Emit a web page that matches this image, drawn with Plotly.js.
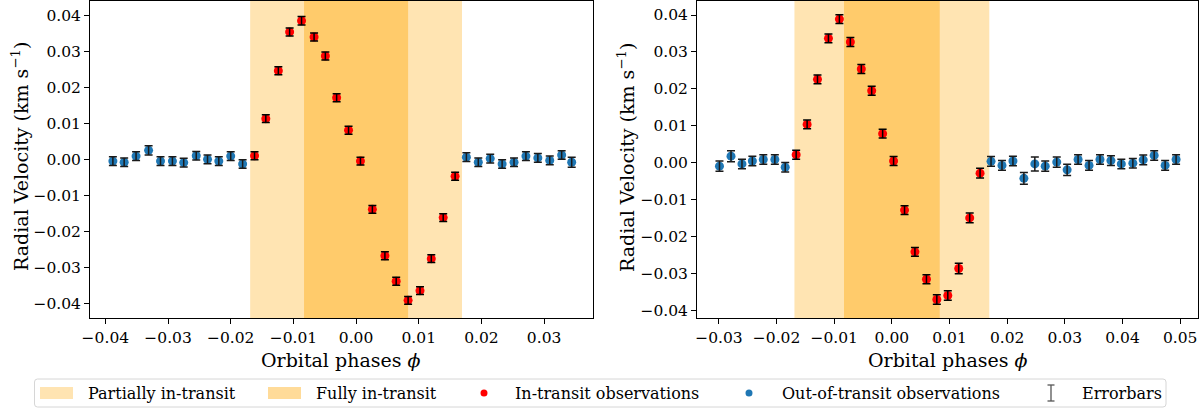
<!DOCTYPE html>
<html>
<head>
<meta charset="utf-8">
<script src="https://cdn.plot.ly/plotly-3.0.1.min.js"></script>
<style>
  html, body { margin: 0; padding: 0; background: #ffffff; }
  #chart { width: 1200px; height: 408px; }
</style>
</head>
<body>
<div id="chart"></div>
<script>
// Transit windows (orbital phase half-widths)
const partialHalf = 0.0169;   // first to fourth contact
const fullHalf = 0.0083;      // second to third contact

// Left night: orbital phase, radial velocity (km/s), 1-sigma error
const phaseA = [
  -0.0388, -0.0370, -0.0351, -0.0331, -0.0312, -0.0293, -0.0275, -0.0255, -0.0237, -0.0219,
  -0.0200, -0.0181, -0.0162, -0.0144, -0.0124, -0.0106, -0.0087, -0.0067, -0.0049, -0.0031,
  -0.0012, 0.0007, 0.0026, 0.0046, 0.0064, 0.0083, 0.0102, 0.0120, 0.0139, 0.0158,
  0.0176, 0.0195, 0.0214, 0.0233, 0.0252, 0.0271, 0.0290, 0.0309, 0.0328, 0.0344
];
const rvA = [
  -0.0005, -0.0008, 0.0009, 0.0025, -0.0005, -0.0005, -0.0009, 0.0010, 0.0000, -0.0005,
  0.0009, -0.0013, 0.0010, 0.0113, 0.0246, 0.0354, 0.0385, 0.0340, 0.0287, 0.0171,
  0.0081, -0.0005, -0.0139, -0.0268, -0.0339, -0.0392, -0.0365, -0.0276, -0.0162, -0.0047,
  0.0006, -0.0008, 0.0002, -0.0013, -0.0008, 0.0009, 0.0004, -0.0003, 0.0012, -0.0008
];
const errA = [
  0.0012, 0.0012, 0.0012, 0.0013, 0.0012, 0.0012, 0.0012, 0.0012, 0.0012, 0.0012,
  0.0012, 0.0012, 0.0011, 0.0011, 0.0011, 0.0011, 0.0012, 0.0011, 0.0011, 0.0011,
  0.0011, 0.0011, 0.0011, 0.0011, 0.0011, 0.0011, 0.0011, 0.0011, 0.0011, 0.0011,
  0.0012, 0.0012, 0.0012, 0.0012, 0.0012, 0.0012, 0.0012, 0.0012, 0.0012, 0.0014
];

// Right night
const phaseB = [
  -0.0299, -0.0279, -0.0260, -0.0242, -0.0223, -0.0203, -0.0185, -0.0166, -0.0147, -0.0129,
  -0.0110, -0.0091, -0.0072, -0.0053, -0.0035, -0.0016, 0.0003, 0.0022, 0.0040, 0.0060,
  0.0078, 0.0097, 0.0116, 0.0135, 0.0153, 0.0172, 0.0191, 0.0210, 0.0229, 0.0248,
  0.0266, 0.0286, 0.0304, 0.0323, 0.0342, 0.0361, 0.0380, 0.0398, 0.0418, 0.0436,
  0.0455, 0.0474, 0.0493
];
const rvB = [
  -0.0009, 0.0018, -0.0003, 0.0005, 0.0009, 0.0009, -0.0012, 0.0022, 0.0104, 0.0226,
  0.0337, 0.0389, 0.0327, 0.0254, 0.0195, 0.0079, 0.0005, -0.0128, -0.0241, -0.0315,
  -0.0370, -0.0359, -0.0286, -0.0149, -0.0028, 0.0004, -0.0007, 0.0005, -0.0042, -0.0003,
  -0.0009, 0.0002, -0.0019, 0.0009, -0.0007, 0.0009, 0.0006, -0.0003, -0.0001, 0.0008,
  0.0020, -0.0007, 0.0009
];
const errB = [
  0.0014, 0.0015, 0.0013, 0.0013, 0.0013, 0.0013, 0.0013, 0.0012, 0.0012, 0.0012,
  0.0012, 0.0012, 0.0012, 0.0012, 0.0012, 0.0012, 0.0012, 0.0012, 0.0012, 0.0012,
  0.0013, 0.0013, 0.0014, 0.0013, 0.0013, 0.0013, 0.0013, 0.0013, 0.0016, 0.0019,
  0.0014, 0.0014, 0.0015, 0.0013, 0.0013, 0.0013, 0.0013, 0.0013, 0.0013, 0.0013,
  0.0013, 0.0013, 0.0013
];

// Tick positions
const phaseTicksA = [-0.04, -0.03, -0.02, -0.01, 0.00, 0.01, 0.02, 0.03];
const phaseTicksB = [-0.03, -0.02, -0.01, 0.00, 0.01, 0.02, 0.03, 0.04, 0.05];
const rvTicks = [-0.04, -0.03, -0.02, -0.01, 0.00, 0.01, 0.02, 0.03, 0.04];

// Legend labels
const legendLabels = ['Partially in-transit', 'Fully in-transit', 'In-transit observations',
                      'Out-of-transit observations', 'Errorbars'];

const W = 1200, H = 408;
const FONT = 'DejaVu Serif, Liberation Serif, serif';
const RED = '#ff0000', BLUE = '#1f77b4', ORANGE_P = 'rgba(255,165,0,0.3)', ORANGE_F = 'rgba(255,165,0,0.4)';
const px = v => v / W;
const py = v => (H - v) / H;

function split(phase, rv, err) {
  const inn = {x: [], y: [], e: []}, out = {x: [], y: [], e: []};
  phase.forEach((p, i) => {
    const g = Math.abs(p) < partialHalf ? inn : out;
    g.x.push(p); g.y.push(rv[i]); g.e.push(err[i]);
  });
  return {inn, out};
}

function panelTraces(phase, rv, err, xa, ya) {
  const s = split(phase, rv, err);
  const pts = (g, color) => ({
    type: 'scatter', mode: 'markers', x: g.x, y: g.y, xaxis: xa, yaxis: ya,
    marker: {color: color, size: 9, line: {width: 0}}, showlegend: false, hoverinfo: 'skip'
  });
  // error bars drawn over the markers
  const bars = (g, color) => ({
    type: 'scatter', mode: 'markers', x: g.x, y: g.y, xaxis: xa, yaxis: ya,
    marker: {color: 'rgba(0,0,0,0)', size: 9},
    error_y: {type: 'data', array: g.e, visible: true, color: color, thickness: 1.5, width: 4},
    showlegend: false, hoverinfo: 'skip'
  });
  return [pts(s.out, BLUE), pts(s.inn, RED), bars(s.out, '#1a1a1a'), bars(s.inn, '#000000')];
}

const traces = [].concat(
  panelTraces(phaseA, rvA, errA, 'x', 'y'),
  panelTraces(phaseB, rvB, errB, 'x2', 'y2')
);

// Transit bands
const shapes = [];
[['x', 'y'], ['x2', 'y2']].forEach(([xa, ya]) => {
  shapes.push({type: 'rect', xref: xa, yref: ya + ' domain', x0: -partialHalf, x1: partialHalf, y0: 0, y1: 1,
               fillcolor: ORANGE_P, line: {width: 0}, layer: 'below'});
  shapes.push({type: 'rect', xref: xa, yref: ya + ' domain', x0: -fullHalf, x1: fullHalf, y0: 0, y1: 1,
               fillcolor: ORANGE_F, line: {width: 0}, layer: 'below'});
});

// Legend frame and handles
const legTop = 379, legBot = 407, legL = 34.5, legR = 1166, legMid = 393, r = 3;
shapes.push({
  type: 'path', xref: 'paper', yref: 'paper',
  path: `M ${px(legL + r)} ${py(legTop)} L ${px(legR - r)} ${py(legTop)} Q ${px(legR)} ${py(legTop)} ${px(legR)} ${py(legTop + r)} ` +
        `L ${px(legR)} ${py(legBot - r)} Q ${px(legR)} ${py(legBot)} ${px(legR - r)} ${py(legBot)} ` +
        `L ${px(legL + r)} ${py(legBot)} Q ${px(legL)} ${py(legBot)} ${px(legL)} ${py(legBot - r)} ` +
        `L ${px(legL)} ${py(legTop + r)} Q ${px(legL)} ${py(legTop)} ${px(legL + r)} ${py(legTop)} Z`,
  fillcolor: 'rgba(255,255,255,0.8)', line: {color: '#d6d6d6', width: 1}
});
shapes.push({type: 'rect', xref: 'paper', yref: 'paper', x0: px(40), x1: px(73), y0: py(legMid + 6), y1: py(legMid - 6),
             fillcolor: ORANGE_P, line: {width: 0}});
shapes.push({type: 'rect', xref: 'paper', yref: 'paper', x0: px(268), x1: px(301), y0: py(legMid + 6), y1: py(legMid - 6),
             fillcolor: ORANGE_F, line: {width: 0}});
shapes.push({type: 'circle', xref: 'paper', yref: 'paper', x0: px(480.5), x1: px(487.5), y0: py(legMid + 3.5), y1: py(legMid - 3.5),
             fillcolor: RED, line: {width: 0}});
shapes.push({type: 'circle', xref: 'paper', yref: 'paper', x0: px(745.5), x1: px(752.5), y0: py(legMid + 3.5), y1: py(legMid - 3.5),
             fillcolor: BLUE, line: {width: 0}});
const ebX = 1051, ebC = '#555555';
shapes.push({type: 'line', xref: 'paper', yref: 'paper', x0: px(ebX), x1: px(ebX), y0: py(legMid + 8), y1: py(legMid - 8), line: {color: ebC, width: 1.3}});
shapes.push({type: 'line', xref: 'paper', yref: 'paper', x0: px(ebX - 3.5), x1: px(ebX + 3.5), y0: py(legMid + 8), y1: py(legMid + 8), line: {color: ebC, width: 1.3}});
shapes.push({type: 'line', xref: 'paper', yref: 'paper', x0: px(ebX - 3.5), x1: px(ebX + 3.5), y0: py(legMid - 8), y1: py(legMid - 8), line: {color: ebC, width: 1.3}});

const legTextX = [86, 314, 513, 780, 1080];
const annotations = legendLabels.map((t, i) => ({
  text: t, xref: 'paper', yref: 'paper', x: px(legTextX[i]), y: py(legMid), xanchor: 'left', yanchor: 'middle',
  showarrow: false, font: {family: FONT, size: 16, color: '#000'}
}));

// Axis titles
const titleFont = {family: FONT, size: 19, color: '#000'};
const domA = [90 / W, 593 / W], domB = [697 / W, 1198 / W];
const domY = [py(318), py(1)];
annotations.push({text: 'Orbital phases <i>ϕ</i>', xref: 'paper', yref: 'paper', x: (domA[0] + domA[1]) / 2, y: py(360),
                  xanchor: 'center', yanchor: 'middle', showarrow: false, font: titleFont});
annotations.push({text: 'Orbital phases <i>ϕ</i>', xref: 'paper', yref: 'paper', x: (domB[0] + domB[1]) / 2, y: py(360),
                  xanchor: 'center', yanchor: 'middle', showarrow: false, font: titleFont});
annotations.push({text: 'Radial Velocity (km s<sup>−1</sup>)', xref: 'paper', yref: 'paper', x: px(20), y: py(157),
                  xanchor: 'center', yanchor: 'middle', textangle: -90, showarrow: false, font: titleFont});
annotations.push({text: 'Radial Velocity (km s<sup>−1</sup>)', xref: 'paper', yref: 'paper', x: px(626), y: py(157),
                  xanchor: 'center', yanchor: 'middle', textangle: -90, showarrow: false, font: titleFont});

const tickFont = {family: FONT, size: 15.5, color: '#000'};
const axisCommon = {
  showgrid: false, zeroline: false, showline: true, mirror: true, linecolor: '#000', linewidth: 1,
  ticks: 'outside', ticklen: 5, tickwidth: 1, tickcolor: '#000', tickfont: tickFont,
  tickmode: 'array', tickformat: '.2f', fixedrange: true
};

const layout = {
  width: W, height: H, margin: {l: 0, r: 0, t: 0, b: 0},
  paper_bgcolor: '#ffffff', plot_bgcolor: '#ffffff', showlegend: false,
  xaxis: Object.assign({}, axisCommon, {domain: domA, range: [-0.04245, 0.0378], tickvals: phaseTicksA, anchor: 'y'}),
  yaxis: Object.assign({}, axisCommon, {domain: domY, range: [-0.0441, 0.0440], tickvals: rvTicks, anchor: 'x'}),
  xaxis2: Object.assign({}, axisCommon, {domain: domB, range: [-0.0338, 0.0531], tickvals: phaseTicksB, anchor: 'y2'}),
  yaxis2: Object.assign({}, axisCommon, {domain: domY, range: [-0.0420, 0.0438], tickvals: rvTicks, anchor: 'x2'}),
  shapes: shapes, annotations: annotations
};

Plotly.newPlot('chart', traces, layout, {staticPlot: true, displayModeBar: false});
</script>
</body>
</html>
